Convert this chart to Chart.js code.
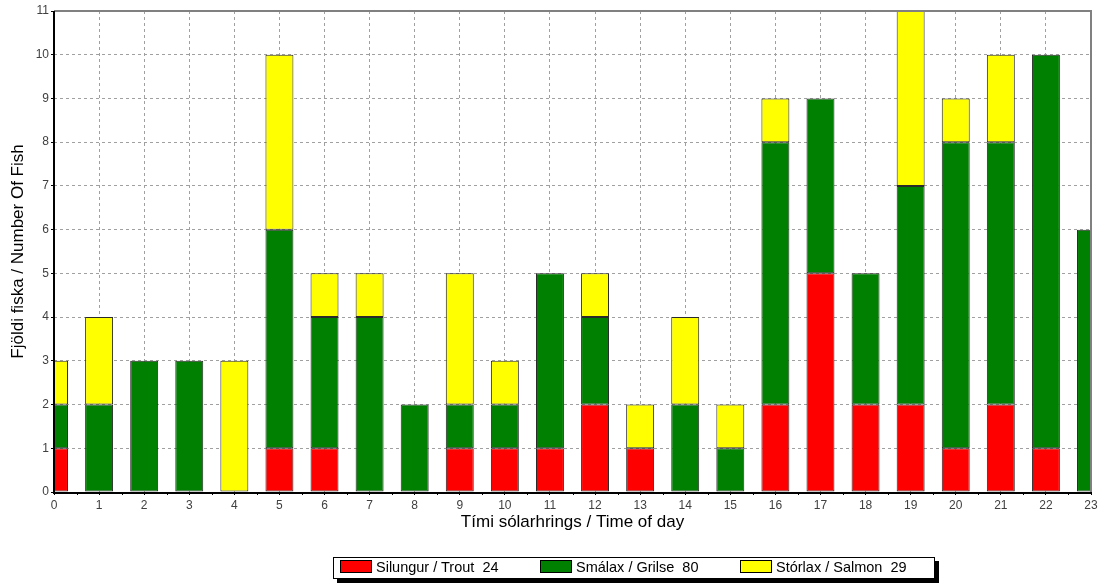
<!DOCTYPE html>
<html><head><meta charset="utf-8">
<script src="https://cdn.jsdelivr.net/npm/chart.js@4"></script>
<style>
html,body{margin:0;padding:0;background:#fff;}
#wrap{position:relative;width:1106px;height:583px;overflow:hidden;}
#chartBox{position:absolute;left:0;top:0;width:1106px;height:583px;}
#legend{position:absolute;left:333px;top:557px;width:600px;height:20px;border:1px solid #000;box-shadow:4px 4px 0 #000;background:#fff;font-family:"Liberation Sans",Arial,sans-serif;font-size:14.5px;color:#000;}
.item{position:absolute;top:2px;height:13px;display:flex;align-items:center;white-space:pre;}
.sw{width:30px;height:11px;border:1px solid #000;margin-right:4px;flex:none;}
</style></head>
<body>
<div id="wrap">
  <div id="chartBox"><canvas id="c"></canvas></div>
  <div id="legend"></div>
</div>
<script>
// ---- data ----
const hours = ['0','1','2','3','4','5','6','7','8','9','10','11','12','13','14','15','16','17','18','19','20','21','22','23'];
const trout  = [1,0,0,0,0,1,1,0,0,1,1,1,2,1,0,0,2,5,2,2,1,2,1,0];
const grilse = [1,2,3,3,0,5,3,4,2,1,1,4,2,0,2,1,6,4,3,5,7,6,9,6];
const salmon = [1,2,0,0,3,4,1,1,0,3,1,0,1,1,2,1,1,0,0,4,1,2,0,0];
const seriesNames = ['Silungur / Trout','Smálax / Grilse','Stórlax / Salmon'];
const seriesColors = ['#FF0000','#008000','#FFFF00'];
const yMax = 11;
const xTitle = 'Tími sólarhrings / Time of day';
const yTitle = 'Fjöldi fiska / Number Of Fish';

const seriesData = [trout, grilse, salmon];
const sum = a => a.reduce((s,v)=>s+v,0);

const FONT = '"Liberation Sans", Arial, sans-serif';

const framePlugin = {
  id:'frame',
  afterDatasetsDraw(chart){
    const {ctx, chartArea:a, scales:{x}} = chart;
    ctx.save();
    // top/right frame
    ctx.strokeStyle = '#808080'; ctx.lineWidth = 2;
    ctx.beginPath();
    ctx.moveTo(a.left, a.top); ctx.lineTo(a.right, a.top); ctx.lineTo(a.right, a.bottom);
    ctx.stroke();
    // minor ticks on x axis
    ctx.strokeStyle = '#000'; ctx.lineWidth = 1;
    ctx.beginPath();
    for (let i = 0; i < hours.length - 1; i++) {
      const px = Math.round((x.getPixelForValue(i) + x.getPixelForValue(i+1)) / 2) + 0.5;
      ctx.moveTo(px, a.bottom); ctx.lineTo(px, a.bottom + 3);
    }
    ctx.stroke();
    // left / bottom axes
    ctx.strokeStyle = '#000'; ctx.lineWidth = 2;
    ctx.beginPath();
    ctx.moveTo(a.left, a.top); ctx.lineTo(a.left, a.bottom + 1); ctx.lineTo(a.right, a.bottom + 1);
    ctx.stroke();
    ctx.restore();
  }
};

new Chart(document.getElementById('c'), {
  type: 'bar',
  data: {
    labels: hours,
    datasets: seriesData.map((d,i)=>({
      label: seriesNames[i],
      data: d,
      backgroundColor: seriesColors[i],
      borderColor: '#2a2a2a',
      borderWidth: 1,
      borderSkipped: false,
      barPercentage: 0.62,
      categoryPercentage: 1,
      clip: 0
    }))
  },
  options: {
    responsive: true,
    maintainAspectRatio: false,
    animation: false,
    layout: { padding: { top: 11, right: 15, bottom: 49, left: 0 } },
    plugins: { legend: { display: false }, tooltip: { enabled: false } },
    scales: {
      x: {
        stacked: true,
        offset: false,
        afterFit(s){ s.height = 42; },
        grid: { offset: false, color: '#a0a0a0', lineWidth: 1, drawTicks: true, tickLength: 3, tickColor: '#000' },
        border: { display: false, dash: [3,3] },
        ticks: { color: '#404040', font: { family: FONT, size: 12 }, padding: 3, maxRotation: 0, autoSkip: false },
        title: { display: true, text: xTitle, color: '#000', font: { family: FONT, size: 17 }, padding: { top: 0, bottom: 1 } }
      },
      y: {
        stacked: true,
        min: 0, max: yMax,
        afterFit(s){ s.width = 54; },
        grid: { color: '#a0a0a0', lineWidth: 1, drawTicks: true, tickLength: 3, tickColor: '#000' },
        border: { display: false, dash: [3,3] },
        ticks: { stepSize: 1, color: '#404040', font: { family: FONT, size: 12 }, padding: 2 },
        title: { display: true, text: yTitle, color: '#000', font: { family: FONT, size: 17 }, padding: { top: 8, bottom: 0 } }
      }
    }
  },
  plugins: [framePlugin]
});

// legend (HTML, built from the series arrays)
const lg = document.getElementById('legend');
seriesNames.forEach((n,i)=>{
  const it = document.createElement('div');
  it.className = 'item';
  it.style.left = (6 + i*200) + 'px';
  const sw = document.createElement('div');
  sw.className = 'sw'; sw.style.background = seriesColors[i];
  const tx = document.createElement('span');
  tx.textContent = n + '  ' + sum(seriesData[i]);
  it.appendChild(sw); it.appendChild(tx);
  lg.appendChild(it);
});
</script>
</body></html>
